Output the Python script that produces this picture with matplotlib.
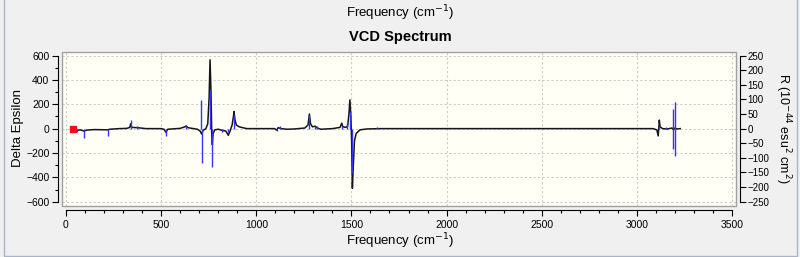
import numpy as np
import matplotlib
matplotlib.use("Agg")
import matplotlib.pyplot as plt
from matplotlib.patches import Rectangle
from matplotlib.ticker import MultipleLocator

plt.rcParams["font.family"] = ["Liberation Sans", "DejaVu Sans"]

# broadened VCD curve (frequency cm-1, delta epsilon)
curve_freq = [25, 40, 56, 75, 95, 110, 150, 219, 230, 280, 320, 335, 340, 345, 375,
              420, 500, 515, 525, 535, 600, 625, 631, 640, 690, 705, 713, 720, 735,
              745, 752, 757, 762, 766, 769, 773, 782, 800, 822, 840, 853, 862, 873,
              880, 883, 887, 895, 910, 928, 950, 1000, 1095, 1107, 1115, 1130, 1160,
              1200, 1255, 1272, 1279, 1285, 1295, 1310, 1320, 1340, 1400, 1440, 1449,
              1455, 1470, 1480, 1487, 1492, 1497, 1501, 1505, 1510, 1516, 1525, 1545,
              1580, 1650, 3085, 3105, 3112, 3116, 3118, 3122, 3135, 3160, 3185, 3193,
              3200, 3210, 3228]
curve_eps = [0, -3, -15, -10, -20, -12, -8, -10, -5, 0, 2, 10, 40, 10, 8,
             0, 0, -5, -30, -5, 2, 15, 22, 8, -5, -20, -45, -15, 0,
             40, 250, 565, 300, -50, -133, -40, -10, -5, -15, -20, -55, -20, 30,
             100, 140, 80, 30, 15, 8, 0, 0, 0, -12, 8, 0, -5,
             -3, 5, 30, 120, 40, 15, 20, 5, -5, 0, 10, 45,
             15, 10, 20, 120, 236, 100, -100, -489, -300, -100, -40, -10,
             -3, 0, 0, -10, -60, 20, 70, 15, 0, -3, 5, -10,
             5, -3, 0]

# rotational strengths (stick spectrum, right axis)
stick_freq = [56, 95, 219, 340, 375, 525, 631, 711, 713, 757, 769, 822, 853, 883,
              1107, 1125, 1279, 1310, 1320, 1449, 1478, 1492, 1505, 1635,
              3118, 3155, 3189, 3191, 3201, 3203]
stick_R = [-13, -32, -26, 28, 10, -26, 10, 97, -119, 133, -131, -10, -12, 47,
           -8, 8, 47, 10, 8, 8, 18, 59, -151, 5,
           8, 5, 67, -68, 90, -92]

marker_freq = [35]
marker_eps = [0]

fig = plt.figure(figsize=(8, 2.57), dpi=100, facecolor="#f0f0f0")
ax = fig.add_axes([62 / 800, (257 - 205.5) / 257, 674 / 800, 154 / 257])
ax.set_facecolor("#fffff6")

ylo, yhi = -631, 633
ax.set_xlim(-21, 3521)
ax.set_ylim(ylo, yhi)

# dotted grid
for gx in range(0, 3501, 500):
    ax.axvline(gx, color="#cccccc", lw=0.8, ls=(0, (2, 2)), zorder=0)
for gy in range(-600, 601, 200):
    ax.axhline(gy, color="#cccccc", lw=0.8, ls=(0, (2, 2)), zorder=0)

ax.plot(curve_freq, curve_eps, color="#151515", lw=1.1, zorder=2)
ax.plot(marker_freq, marker_eps, "s", color="#ee1111", ms=4.5, zorder=5)

# frame around plot area
ax.add_patch(Rectangle((0, 0), 1, 1, transform=ax.transAxes, fill=False,
                       edgecolor="#a0a0a0", lw=1.0, clip_on=False, zorder=6))

for s in ["top", "right"]:
    ax.spines[s].set_visible(False)
ax.spines["left"].set_position(("outward", 3))
ax.spines["bottom"].set_position(("outward", 3))
ax.spines["left"].set_bounds(-600, 600)
ax.spines["bottom"].set_bounds(0, 3500)

ax.xaxis.set_major_locator(MultipleLocator(500))
ax.xaxis.set_minor_locator(MultipleLocator(100))
ax.yaxis.set_major_locator(MultipleLocator(200))
ax.yaxis.set_minor_locator(MultipleLocator(100))
ax.tick_params(which="major", length=4.5, width=0.8, labelsize=7.5, pad=1.5)
ax.tick_params(which="minor", length=2.3, width=0.8)
ax.tick_params(axis="x", which="major", pad=3)

ax2 = ax.twinx()
ax2.set_ylim(ylo / 2.4, yhi / 2.4)
ax2.vlines(stick_freq, 0, stick_R, color="#3333ff", lw=1.0, zorder=3)
for s in ["top", "left", "bottom"]:
    ax2.spines[s].set_visible(False)
ax2.spines["right"].set_position(("outward", 3))
ax2.spines["right"].set_bounds(-250, 250)
ax2.yaxis.set_major_locator(MultipleLocator(50))
ax2.tick_params(which="major", length=4, width=0.8, labelsize=7, pad=1.5)

fig.text(0.5, 1 - 13 / 257, "Frequency (cm$^{-1}$)", ha="center", va="center", fontsize=9.5)
fig.text(0.5, 1 - 37 / 257, "VCD Spectrum", ha="center", va="center", fontsize=10.5,
         fontweight="bold")
fig.text(0.5, 1 - 241 / 257, "Frequency (cm$^{-1}$)", ha="center", va="center", fontsize=9.5)
fig.text(18 / 800, 1 - 128 / 257, "Delta Epsilon", ha="center", va="center", fontsize=9.5,
         rotation=90)
fig.text(783 / 800, 1 - 128 / 257, "R (10$^{-44}$ esu$^{2}$ cm$^{2}$)", ha="center",
         va="center", fontsize=9, rotation=270)

# window border
fig.patches.append(Rectangle((3.5 / 800, 1.5 / 257), 793 / 800, 260 / 257,
                             transform=fig.transFigure, fill=False,
                             edgecolor="#a8b4c8", lw=1.0))

fig.savefig("out.png", dpi=100, facecolor=fig.get_facecolor())
